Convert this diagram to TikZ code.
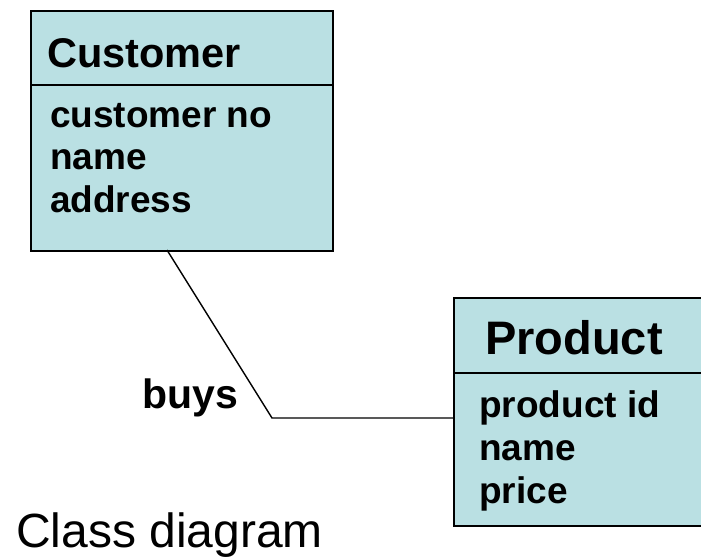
\documentclass[tikz,border=0pt]{standalone}
\usepackage{fontspec}
\setmainfont{Liberation Sans}
\definecolor{classfill}{RGB}{186,224,227}
\begin{document}
\begin{tikzpicture}[x=1pt, y=-1pt,
  classbox/.style={draw=black, line width=1.5pt, fill=classfill, rectangle,
    anchor=north west, inner sep=0pt},
  divider/.style={draw=black, line width=1.5pt},
  assoc/.style={draw=black, line width=1.4pt},
  txt/.style={anchor=base west, inner sep=0pt, text=black},
  ctitle/.style={txt, font=\fontsize{41.5}{50}\selectfont\bfseries},
  ptitle/.style={txt, font=\fontsize{47}{56}\selectfont\bfseries},
  attr/.style={txt, font=\fontsize{37}{44}\selectfont\bfseries},
  caption/.style={txt, font=\fontsize{48}{57}\selectfont}]
\useasboundingbox (0,0) rectangle (701,557);

% Customer class
\node[classbox, minimum width=302pt, minimum height=240pt] (cust) at (30,10) {};
\draw[divider] (30,85) -- (332,85);
\node[ctitle] (custname) at (47,67) {Customer};
\node[attr] (cattr1) at (50,127) {customer no};
\node[attr] (cattr2) at (50,169.5) {name};
\node[attr] (cattr3) at (50,212) {address};

% Product class (runs off the right edge)
\node[classbox, minimum width=260pt, minimum height=228pt] (prod) at (453,297) {};
\draw[divider] (453,373) -- (713,373);
\node[ptitle] (prodname) at (485,354) {Product};
\node[attr] (pattr1) at (479,417) {product id};
\node[attr] (pattr2) at (479,460) {name};
\node[attr] (pattr3) at (479,503) {price};

% Association
\coordinate (cfoot) at (167,250);
\coordinate (bend) at (272,418);
\draw[assoc] (cfoot) -- (bend) -- (bend -| prod.west);
\node[txt, font=\fontsize{41}{49}\selectfont\bfseries] (buys) at (142,408) {buys};

% Caption
\node[caption] (cap) at (16,547) {Class diagram};
\end{tikzpicture}
\end{document}
